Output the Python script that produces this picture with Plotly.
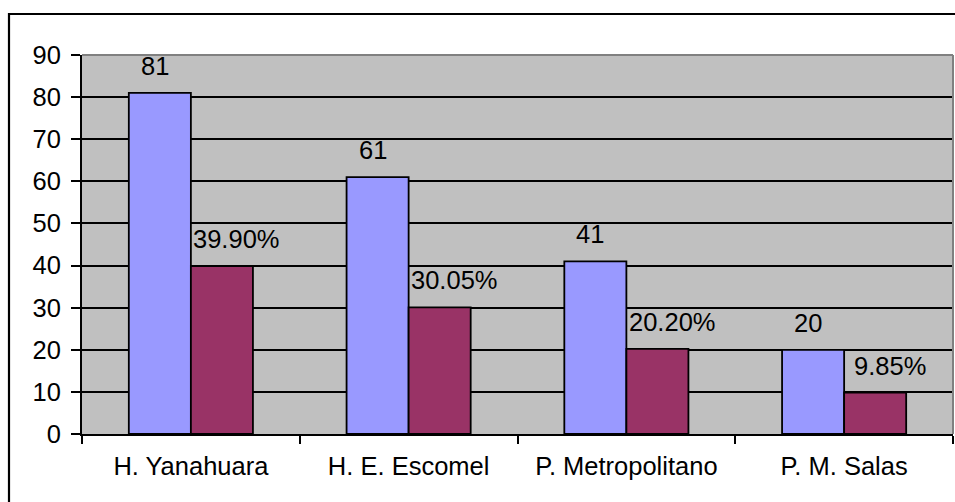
import plotly.graph_objects as go

categories = ["H. Yanahuara", "H. E. Escomel", "P. Metropolitano", "P. M. Salas"]
counts = [81, 61, 41, 20]
percents = [39.90, 30.05, 20.20, 9.85]
count_labels = ["81", "61", "41", "20"]
percent_labels = ["39.90%", "30.05%", "20.20%", "9.85%"]
y_ticks = [0, 10, 20, 30, 40, 50, 60, 70, 80, 90]

FONT = "Liberation Sans, Arial, sans-serif"
FS = 25.5
W, H = 955, 502
ML, MR, MT, MB = 82, 2, 55, 68
PW, PH = W - ML - MR, H - MT - MB

fig = go.Figure()
fig.add_trace(go.Bar(x=categories, y=counts, marker=dict(color="#9999FF", line=dict(color="black", width=1.8)),
                     showlegend=False, hoverinfo="x+y"))
fig.add_trace(go.Bar(x=categories, y=percents, marker=dict(color="#993366", line=dict(color="black", width=1.8)),
                     showlegend=False, hoverinfo="x+y"))

annotations = []
for c, v, t in zip(categories, counts, count_labels):
    annotations.append(dict(x=c, y=v, text=t, showarrow=False, xref="x", yref="y",
                            xanchor="center", yanchor="bottom", xshift=-36, yshift=11,
                            font=dict(family=FONT, size=FS, color="black")))
for c, v, t in zip(categories, percents, percent_labels):
    annotations.append(dict(x=c, y=v, text=t, showarrow=False, xref="x", yref="y",
                            xanchor="center", yanchor="bottom", xshift=46, yshift=11,
                            font=dict(family=FONT, size=FS, color="black")))

def px_x(p):
    return (p - ML) / PW

def px_y(p):
    return (H - MB - p) / PH

shapes = [
    # outer chart border (left/top visible; right/bottom cropped)
    dict(type="rect", xref="paper", yref="paper", x0=px_x(9), x1=px_x(1000), y0=px_y(560), y1=px_y(14),
         line=dict(color="black", width=2.2), fillcolor="rgba(0,0,0,0)", layer="above"),
    # plot-area gray border top and right
    dict(type="line", xref="paper", yref="paper", x0=0, x1=1, y0=1, y1=1,
         line=dict(color="#808080", width=2), layer="above"),
    dict(type="line", xref="paper", yref="paper", x0=1, x1=1, y0=0, y1=1,
         line=dict(color="#808080", width=2), layer="above"),
]

fig.update_layout(
    width=W, height=H,
    margin=dict(l=ML, r=MR, t=MT, b=MB, pad=0),
    paper_bgcolor="white",
    plot_bgcolor="#C0C0C0",
    barmode="group",
    bargap=0.43,
    bargroupgap=0,
    font=dict(family=FONT, size=FS, color="black"),
    annotations=annotations,
    shapes=shapes,
    xaxis=dict(
        type="category",
        showline=True, linecolor="black", linewidth=2,
        ticks="outside", tickson="boundaries", ticklen=8, tickwidth=2, tickcolor="black",
        showgrid=False,
        tickfont=dict(family=FONT, size=FS, color="black"),
        ticklabelstandoff=8,
        fixedrange=True,
    ),
    yaxis=dict(
        range=[0, 90],
        tickvals=y_ticks,
        ticktext=[str(v) for v in y_ticks],
        showline=True, linecolor="black", linewidth=2,
        ticks="outside", ticklen=9, tickwidth=2, tickcolor="black",
        showgrid=True, gridcolor="black", gridwidth=1.6,
        zeroline=False,
        tickfont=dict(family=FONT, size=FS, color="black"),
        ticklabelstandoff=5,
        fixedrange=True,
    ),
)

fig.write_html("out.html")
